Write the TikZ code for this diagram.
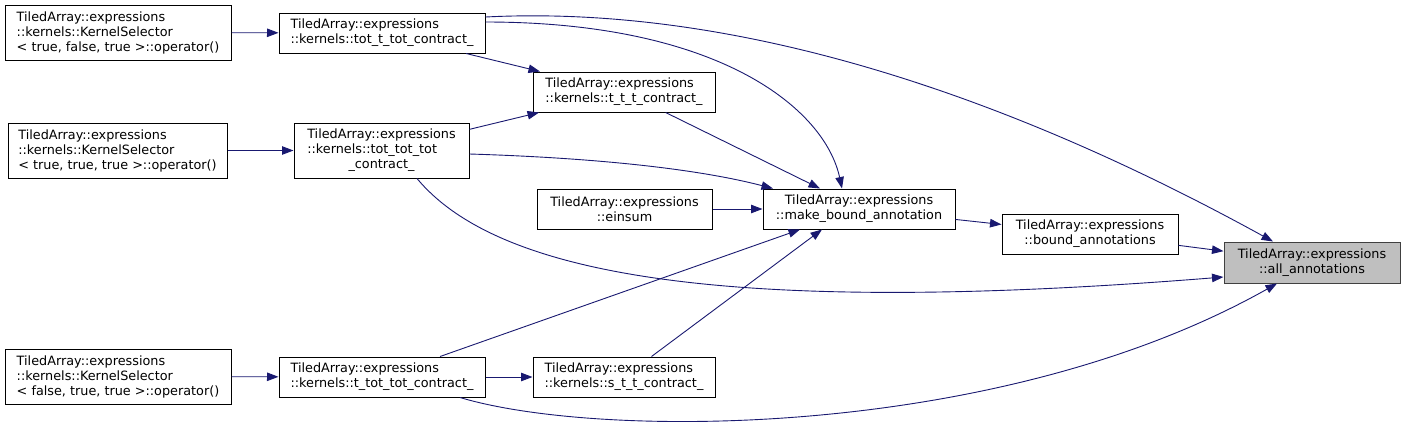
\documentclass[tikz,border=0pt]{standalone}
\usepackage{fontspec}
\setmainfont{DejaVu Sans}
\usepackage{tikz}
\usetikzlibrary{arrows.meta}
\definecolor{edgeblue}{HTML}{191970}
\definecolor{rootgray}{HTML}{BFBFBF}
\definecolor{rootline}{HTML}{404040}

\begin{document}
\begin{tikzpicture}[x=1pt,y=-1pt,
  fn/.style={draw=black,line width=1pt,fill=white,inner sep=0pt,align=left,font=\fontsize{12.8}{15}\selectfont},
  fnc/.style={fn,align=center},
  root/.style={fnc,fill=rootgray,draw=rootline},
  call/.style={edgeblue,line width=0.9pt,-{Triangle[length=11.5pt,width=8.5pt]}}]
  \useasboundingbox (0,0) rectangle (1405,432);

  \node[fn,minimum width=226,minimum height=55] (selTFT) at (118,32.5) {TiledArray::expressions\\::kernels::KernelSelector\\< true, false, true >::operator()};
  \node[fn,minimum width=206,minimum height=40] (totTtot) at (382,33) {TiledArray::expressions\\::kernels::tot\_t\_tot\_contract\_};
  \node[fn,minimum width=219,minimum height=55] (selTTT) at (117.5,150.5) {TiledArray::expressions\\::kernels::KernelSelector\\< true, true, true >::operator()};
  \node[fn,minimum width=175,minimum height=55] (totTotTot) at (381.5,150.5) {\begin{tabular}{@{}l@{}}TiledArray::expressions\\::kernels::tot\_tot\_tot\\\multicolumn{1}{@{}c@{}}{\_contract\_}\end{tabular}};
  \node[fn,minimum width=182,minimum height=40] (tTT) at (624,92) {TiledArray::expressions\\::kernels::t\_t\_t\_contract\_};
  \node[fnc,minimum width=175,minimum height=40] (einsum) at (624.5,209) {TiledArray::expressions\\::einsum};
  \node[fnc,minimum width=192,minimum height=40] (makeBound) at (859,209) {TiledArray::expressions\\::make\_bound\_annotation};
  \node[fnc,minimum width=176,minimum height=40] (boundAnn) at (1090,234) {TiledArray::expressions\\::bound\_annotations};
  \node[root,minimum width=176,minimum height=41] (allAnn) at (1312,262.5) {TiledArray::expressions\\::all\_annotations};
  \node[fn,minimum width=226,minimum height=55] (selFTT) at (118,376.5) {TiledArray::expressions\\::kernels::KernelSelector\\< false, true, true >::operator()};
  \node[fn,minimum width=206,minimum height=40] (tTotTot) at (382,377) {TiledArray::expressions\\::kernels::t\_tot\_tot\_contract\_};
  \node[fn,minimum width=182,minimum height=40] (sTT) at (624,377) {TiledArray::expressions\\::kernels::s\_t\_t\_contract\_};

  \draw[call] (selTFT) -- (totTtot);
  \draw[call] (selTTT) -- (totTotTot);
  \draw[call] (selFTT) -- (tTotTot);
  \draw[call] (tTotTot) -- (sTT);
  \draw[call] (totTtot) -- (tTT);
  \draw[call] (totTotTot) -- (tTT);
  \draw[call] (tTT) -- ([xshift=-39pt]makeBound.north);
  \draw[call] (einsum) -- (makeBound);
  \draw[call] (tTotTot) -- ([xshift=-59pt]makeBound.south);
  \draw[call] (sTT) -- ([xshift=-37pt]makeBound.south);
  \draw[call] (makeBound) -- (boundAnn);
  \draw[call] (boundAnn) -- (allAnn);
  \draw[call] ([yshift=11pt]totTtot.east) .. controls +(235,0) and +(-17,-79) .. ([xshift=-17pt]makeBound.north);
  \draw[call] ([yshift=-3.5pt]totTotTot.east) .. controls +(131,4) and +(-73,-19) .. ([xshift=-86pt]makeBound.north);
  \draw[call] ([yshift=16pt]totTtot.east) .. controls +(295,-15) and +(-200,-110) .. ([xshift=-39pt]allAnn.north);
  \draw[call] ([xshift=35.5pt]totTotTot.south) .. controls +(75,90) and +(-524,42) .. ([yshift=-14.5pt]allAnn.west);
  \draw[call] ([xshift=78pt]tTotTot.south) .. controls +(140,42) and +(-277,156) .. ([xshift=-35pt]allAnn.south);
\end{tikzpicture}
\end{document}
